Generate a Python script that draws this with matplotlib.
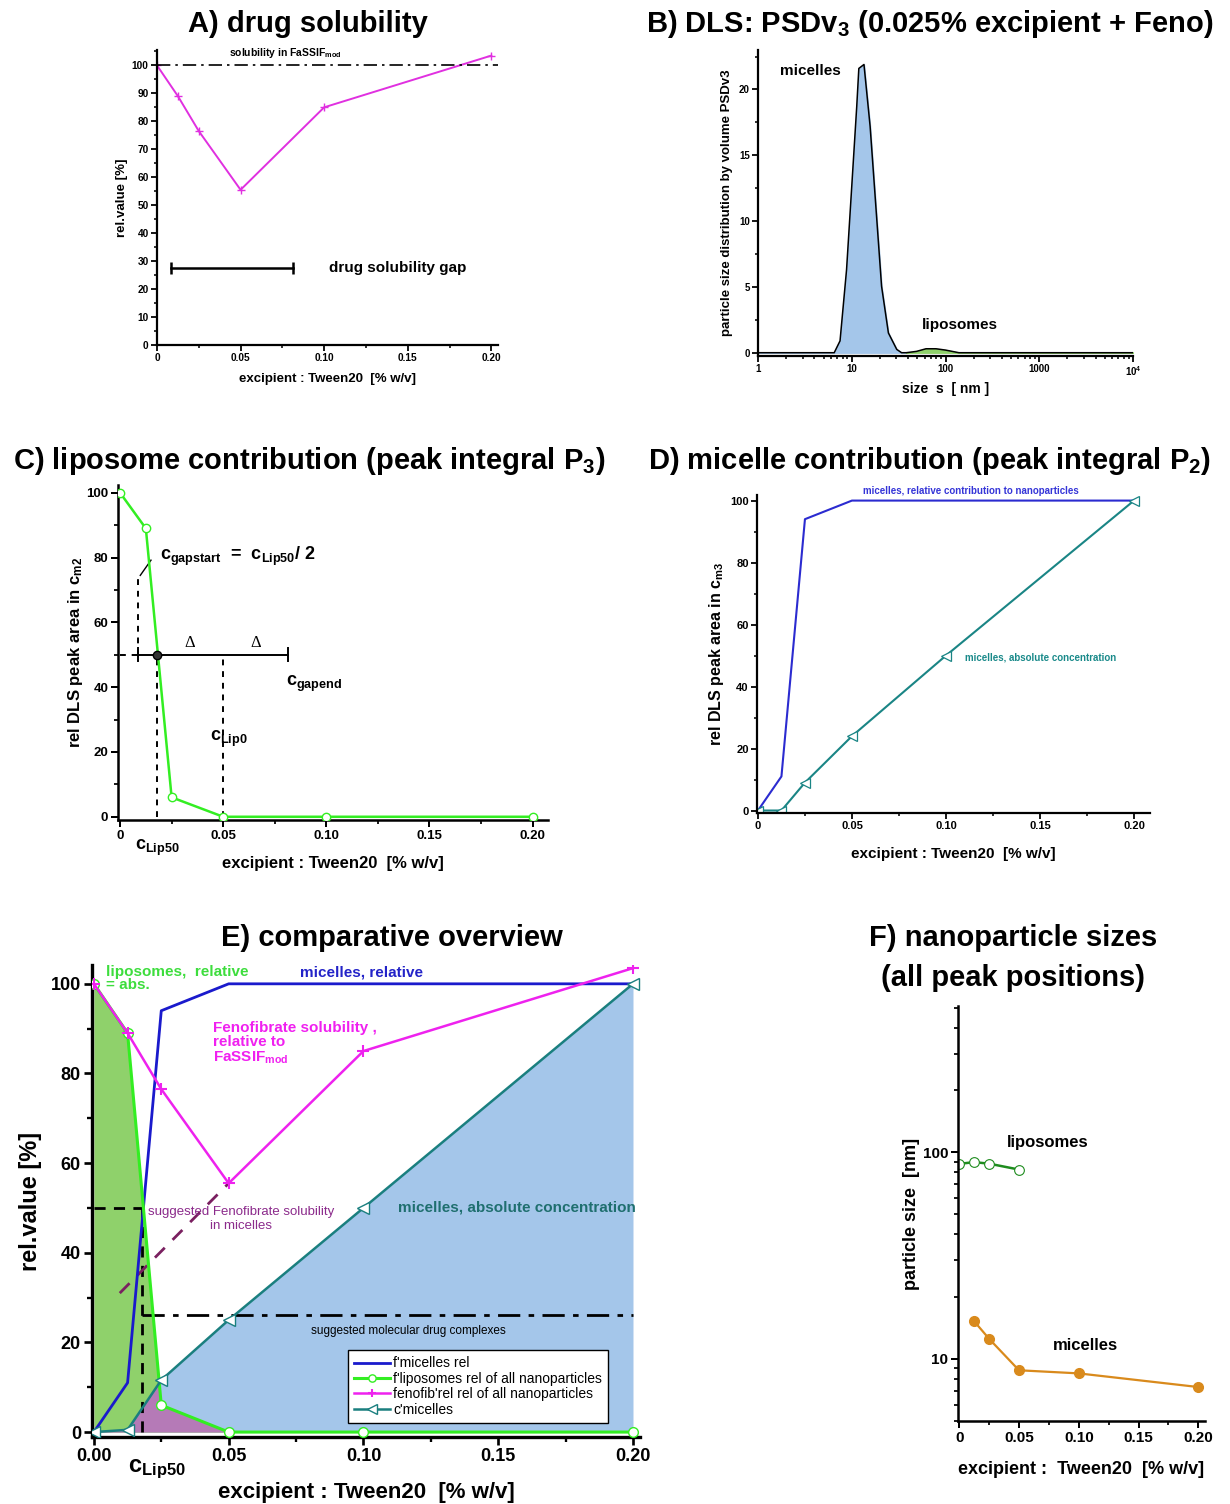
import numpy as np
import matplotlib
matplotlib.use("Agg")
import matplotlib.pyplot as plt
from matplotlib.ticker import MultipleLocator, FixedLocator, NullFormatter, LogLocator

plt.rcParams["font.family"] = ["Liberation Sans", "DejaVu Sans"]
plt.rcParams["font.weight"] = "bold"
plt.rcParams["axes.labelweight"] = "bold"
plt.rcParams["mathtext.fontset"] = "custom"
plt.rcParams["mathtext.rm"] = "Liberation Sans:bold"
plt.rcParams["mathtext.bf"] = "Liberation Sans:bold"
plt.rcParams["mathtext.it"] = "Liberation Sans:bold"
plt.rcParams["mathtext.default"] = "bf"

# ---------------- data ----------------
tween = [0, 0.0125, 0.025, 0.05, 0.10, 0.20]          # excipient conc. [% w/v]
feno_rel = [100, 89, 76.5, 55.5, 85, 103.5]           # fenofibrate solubility rel. to FaSSIFmod
lipo_rel = [100, 89, 6, 0, 0, 0]                      # liposome peak area, relative
mic_rel = [0, 11, 94, 100, 100, 100]                  # micelle peak area, relative
mic_abs_d = [0, 0, 9, 24, 50, 100]                    # micelle absolute concentration (panel D)
mic_abs_e = [0, 0.5, 11.6, 25, 50, 100]               # micelle absolute concentration (panel E)

# DLS volume distribution at 0.025 % Tween20
dls_size = [1, 6.5, 7.5, 8.8, 11.3, 11.9, 13.5, 15.7, 20.8, 24.6, 30.2, 34,
            38, 49, 62, 79, 100, 139, 10000]
dls_psd = [0, 0, 0.9, 6.3, 18.7, 21.6, 21.9, 17.2, 5.05, 1.5, 0.25, 0,
           0, 0.1, 0.3, 0.3, 0.2, 0, 0]
micelle_cut = 35  # nm, boundary between micelle and liposome peak

# peak positions
lipo_x = [0, 0.0125, 0.025, 0.05]
lipo_size = [87.8, 89.5, 88, 82.4]
mic_x = [0.0125, 0.025, 0.05, 0.10, 0.20]
mic_size = [15.2, 12.5, 8.8, 8.5, 7.3]

# characteristic concentrations
c_lip50 = 0.018
c_gapstart = 0.0085
c_lip0 = 0.05
c_gapend = 0.0815
feno_micelle_line_x = [0.0096, 0.05]
feno_micelle_line_y = [31, 55.5]
complex_level = 26.2

xticks = [0, 0.05, 0.10, 0.15, 0.20]

W, H = 1230, 1504
fig = plt.figure(figsize=(W / 100, H / 100), dpi=100)
TITLE = 21


def px_axes(l, t, r, b):
    return fig.add_axes([l / W, 1 - b / H, (r - l) / W, (b - t) / H])


def style(ax, lw=1.6, tsize=8, minor_x=0.025, minor_y=None, ticklen=4):
    for s in ("top", "right"):
        ax.spines[s].set_visible(False)
    for s in ("left", "bottom"):
        ax.spines[s].set_linewidth(lw)
    ax.tick_params(which="major", direction="out", length=ticklen, width=lw * 0.8,
                   labelsize=tsize, pad=2)
    ax.tick_params(which="minor", direction="out", length=ticklen * 0.6, width=lw * 0.7)
    if minor_x:
        ax.xaxis.set_minor_locator(MultipleLocator(minor_x))
    if minor_y:
        ax.yaxis.set_minor_locator(MultipleLocator(minor_y))


def set_xt(ax, labels):
    ax.set_xticks(xticks)
    ax.set_xticklabels(labels)


# ---------------- A) drug solubility ----------------
axA = px_axes(157, 50, 498, 345)
axA.plot(tween, feno_rel, color="#e030e0", lw=1.4, marker="+", ms=6, mew=1.0)
axA.axhline(100, color="black", lw=1.2, ls="-.", dashes=(8, 3, 1.5, 3))
axA.plot([c_gapstart, c_gapend], [27.5, 27.5], color="black", lw=1.8,
         marker="|", ms=9, mew=1.8)
axA.text(0.0766, 104.5, "solubility in FaSSIF$_{mod}$", fontsize=7.5, ha="center", va="center")
axA.text(0.103, 27.5, "drug solubility gap", fontsize=11, ha="left", va="center")
axA.set_xlim(0, 0.204)
axA.set_ylim(0, 105.5)
axA.set_yticks(range(0, 101, 10))
set_xt(axA, ["0", "0.05", "0.10", "0.15", "0.20"])
style(axA, lw=1.6, tsize=7.3, minor_y=5, ticklen=4)
axA.set_xlabel("excipient : Tween20  [% w/v]", fontsize=9.5, labelpad=7)
axA.set_ylabel("rel.value [%]", fontsize=9.5, labelpad=3)
fig.text(308 / W, 1 - 24 / H, "A) drug solubility", fontsize=TITLE, ha="center", va="center")

# ---------------- B) DLS distribution ----------------
axB = px_axes(758, 50, 1133, 356)
sz = np.array(dls_size, dtype=float)
ps = np.array(dls_psd, dtype=float)
axB.fill_between(sz, 0, ps, where=sz <= micelle_cut, color="#a4c6ea", interpolate=True)
axB.fill_between(sz, 0, ps, where=sz >= micelle_cut, color="#8fd16b", interpolate=True)
axB.plot(sz, ps, color="black", lw=1.1)
axB.set_xscale("log")
axB.set_xlim(1, 1e4)
axB.set_ylim(-0.25, 23)
axB.set_xticks([1, 10, 100, 1000, 1e4])
axB.set_xticklabels(["1", "10", "100", "1000", "10$^4$"])
axB.xaxis.set_minor_locator(LogLocator(base=10, subs=np.arange(2, 10)))
axB.xaxis.set_minor_formatter(NullFormatter())
axB.set_yticks([0, 5, 10, 15, 20])
style(axB, lw=1.6, tsize=7, minor_x=None, minor_y=2.5, ticklen=4)
axB.text(1.72, 21.4, "micelles", fontsize=11, ha="left", va="center")
axB.text(56, 2.1, "liposomes", fontsize=11, ha="left", va="center")
axB.set_xlabel("size  s  [ nm ]", fontsize=10, labelpad=3)
axB.set_ylabel("particle size distribution by volume PSDv3", fontsize=9.5, labelpad=4)
fig.text(930 / W, 1 - 24 / H, "B) DLS: PSDv$_3$ (0.025% excipient + Feno)", fontsize=TITLE,
         ha="center", va="center")

# ---------------- C) liposome contribution ----------------
axC = px_axes(118, 485, 548, 820)
axC.plot(tween, lipo_rel, color="#33ee22", lw=1.8, marker="o", ms=6,
         mfc="white", mec="#33ee22", mew=1.0, zorder=3)
axC.plot([0, c_gapstart], [50, 50], color="black", lw=1.4, ls=(0, (3, 3)))
axC.plot([c_gapstart, c_gapend], [50, 50], color="black", lw=1.4, zorder=4)
for xc in (c_gapstart, c_gapend):
    axC.plot([xc, xc], [48, 52], color="black", lw=1.4, zorder=4)
axC.plot([c_gapstart, c_gapstart], [50, 74], color="black", lw=1.4, ls=(0, (3, 3)))
axC.plot([c_lip50, c_lip50], [0, 50], color="black", lw=1.4, ls=(0, (3, 3)))
axC.plot([c_lip0, c_lip0], [0, 50], color="black", lw=1.4, ls=(0, (3, 3)))
axC.plot([c_gapstart + 0.0013, c_lip50 - 0.003], [74.5, 79.2], color="black", lw=1.0)
axC.plot([c_lip50], [50], marker="o", ms=6, mfc="#333333", mec="black", zorder=5)
axC.text(0.0195, 80.5, "c$_{gapstart}$  =  c$_{Lip50}$/ 2", fontsize=13, ha="left", va="center")
axC.text(0.034, 53.5, "Δ", fontsize=12, family="Liberation Serif", weight="normal",
         ha="center", va="center")
axC.text(0.066, 53.5, "Δ", fontsize=12, family="Liberation Serif", weight="normal",
         ha="center", va="center")
axC.text(0.0805, 41, "c$_{gapend}$", fontsize=13, ha="left", va="center")
axC.text(0.0435, 24, "c$_{Lip0}$", fontsize=13, ha="left", va="center")
axC.text(c_lip50, -9.5, "c$_{Lip50}$", fontsize=13, ha="center", va="center")
axC.set_xlim(-0.001, 0.2075)
axC.set_ylim(-1, 102.4)
axC.set_yticks(range(0, 101, 20))
set_xt(axC, ["0", "0.05", "0.10", "0.15", "0.20"])
style(axC, lw=1.8, tsize=9.5, minor_y=10, ticklen=5)
axC.set_xlabel("excipient : Tween20  [% w/v]", fontsize=12, labelpad=10)
axC.set_ylabel("rel DLS peak area in c$_\\mathregular{m2}$", fontsize=12, labelpad=1)
fig.text(309 / W, 1 - 461 / H, "C) liposome contribution (peak integral P$_3$)", fontsize=TITLE,
         ha="center", va="center")

# ---------------- D) micelle contribution ----------------
axD = px_axes(757, 495, 1150, 813)
axD.plot(tween, mic_rel, color="#2b2bd0", lw=1.5)
axD.plot(tween, mic_abs_d, color="#1a8585", lw=1.5, marker="<", ms=7,
         mfc="white", mec="#1a8585", mew=0.9)
axD.text(0.113, 103.2, "micelles, relative contribution to nanoparticles", fontsize=7,
         color="#3535d8", ha="center", va="center")
axD.text(0.110, 49.5, "micelles, absolute concentration", fontsize=7,
         color="#1a8a8a", ha="left", va="center")
axD.set_xlim(-0.0005, 0.2085)
axD.set_ylim(-0.8, 101.8)
axD.set_yticks(range(0, 101, 20))
set_xt(axD, ["0", "0.05", "0.10", "0.15", "0.20"])
style(axD, lw=1.6, tsize=8, minor_y=10, ticklen=4)
axD.set_xlabel("excipient : Tween20  [% w/v]", fontsize=11, labelpad=11)
axD.set_ylabel("rel DLS peak area in c$_\\mathregular{m3}$", fontsize=11.5, labelpad=3)
fig.text(930 / W, 1 - 461 / H, "D) micelle contribution (peak integral P$_2$)", fontsize=TITLE,
         ha="center", va="center")

# ---------------- E) comparative overview ----------------
axE = px_axes(92, 965, 640, 1437)
xs = np.linspace(0, 0.2, 4001)
green_i = np.interp(xs, tween, lipo_rel)
teal_i = np.interp(xs, tween, mic_abs_e)
axE.fill_between(tween, 0, mic_abs_e, color="#a4c6ea", lw=0, zorder=1)
axE.fill_between(tween, 0, lipo_rel, color="#8fd16b", lw=0, zorder=1.1)
axE.fill_between(xs, 0, np.minimum(green_i, teal_i), color="#b57ab7", lw=0, zorder=1.2)

axE.plot([0, c_lip50], [50, 50], color="black", lw=2, ls=(0, (4, 3)), zorder=2)
axE.plot([c_lip50, c_lip50], [0, 50], color="black", lw=2, ls=(0, (4, 3)), zorder=2)
axE.plot(feno_micelle_line_x, feno_micelle_line_y, color="#7a2060", lw=2,
         ls=(0, (5, 4)), zorder=2)
axE.plot([c_lip50, 0.2], [complex_level, complex_level], color="black", lw=2,
         dashes=(8, 3, 2, 3), zorder=2)

l_mic, = axE.plot(tween, mic_rel, color="#1a1acc", lw=2, zorder=3)
l_lip, = axE.plot(tween, lipo_rel, color="#33ee22", lw=2.2, marker="o", ms=7,
                  mfc="white", mec="#33ee22", mew=1.0, zorder=3)
l_fen, = axE.plot(tween, feno_rel, color="#ee22ee", lw=1.8, marker="+", ms=8,
                  mew=1.5, zorder=3)
l_cm, = axE.plot(tween, mic_abs_e, color="#1a7f7f", lw=1.8, marker="<", ms=9,
                 mfc="white", mec="#1a7f7f", mew=1.0, zorder=3)

axE.text(0.0045, 104.3, "liposomes,  relative\n= abs.", fontsize=11, color="#3ddd3d",
         ha="left", va="top", linespacing=0.95)
axE.text(0.0764, 102.6, "micelles, relative", fontsize=11, color="#2323c8",
         ha="left", va="center")
axE.text(0.0442, 91.6, "Fenofibrate solubility ,\nrelative to\nFaSSIF$_{mod}$", fontsize=11,
         color="#f020f0", ha="left", va="top", linespacing=1.0)
axE.text(0.0545, 47.5, "suggested Fenofibrate solubility\nin micelles", fontsize=9.5,
         color="#8b2a8b", ha="center", va="center", multialignment="center",
         weight="normal", linespacing=1.15)
axE.text(0.1128, 50, "micelles, absolute concentration", fontsize=11, color="#1f6f6f",
         ha="left", va="center")
axE.text(0.1165, 22.6, "suggested molecular drug complexes", fontsize=8.5,
         ha="center", va="center", weight="normal")
axE.text(0.0235, -8.3, "c$_{Lip50}$", fontsize=17, ha="center", va="center")

leg = axE.legend([l_mic, l_lip, l_fen, l_cm],
                 ["f'micelles rel", "f'liposomes rel of all nanoparticles",
                  "fenofib'rel rel of all nanoparticles", "c'micelles"],
                 loc="lower left", bbox_to_anchor=(0.467, 0.03),
                 prop={"weight": "normal", "size": 10}, frameon=True, fancybox=False,
                 framealpha=1, edgecolor="black", handlelength=2.6, handletextpad=0.2,
                 borderpad=0.45, labelspacing=0.1, markerscale=0.75, borderaxespad=0)
leg.get_frame().set_linewidth(1.0)
leg.set_zorder(5)

axE.set_xlim(-0.0007, 0.2026)
axE.set_ylim(-1.1, 104.2)
axE.set_yticks(range(0, 101, 20))
set_xt(axE, ["0.00", "0.05", "0.10", "0.15", "0.20"])
style(axE, lw=2.4, tsize=13, minor_y=10, ticklen=6)
axE.set_xlabel("excipient : Tween20  [% w/v]", fontsize=16, labelpad=12)
axE.set_ylabel("rel.value [%]", fontsize=17, labelpad=6)
fig.text(392 / W, 1 - 938 / H, "E) comparative overview", fontsize=TITLE, ha="center", va="center")

# ---------------- F) nanoparticle sizes ----------------
axF = px_axes(958, 1006, 1205, 1421)
axF.plot(lipo_x, lipo_size, color="#1e8c1e", lw=1.8, marker="o", ms=7,
         mfc="white", mec="#1e8c1e", mew=0.8)
axF.plot(mic_x, mic_size, color="#d98a1c", lw=1.6, marker="o", ms=7,
         mfc="#d98a1c", mec="#d98a1c")
axF.set_yscale("log")
axF.set_ylim(5, 510)
axF.set_xlim(-0.001, 0.2056)
axF.yaxis.set_major_locator(FixedLocator([10, 100]))
axF.set_yticklabels(["10", "100"])
axF.yaxis.set_minor_locator(LogLocator(base=10, subs=np.arange(2, 10)))
axF.yaxis.set_minor_formatter(NullFormatter())
set_xt(axF, ["0", "0.05", "0.10", "0.15", "0.20"])
style(axF, lw=1.8, tsize=11, ticklen=5)
axF.text(0.04, 112, "liposomes", fontsize=12, ha="left", va="center")
axF.text(0.078, 11.6, "micelles", fontsize=12, ha="left", va="center")
axF.set_xlabel("excipient :  Tween20  [% w/v]", fontsize=13, labelpad=12)
axF.set_ylabel("particle size  [nm]", fontsize=13, labelpad=2)
fig.text(1013 / W, 1 - 958 / H, "F) nanoparticle sizes\n(all peak positions)", fontsize=TITLE,
         ha="center", va="center", linespacing=1.55)

fig.savefig("out.png", dpi=100, facecolor="white")
